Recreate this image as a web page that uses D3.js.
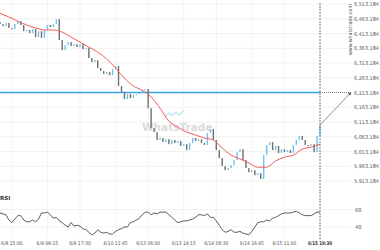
<!DOCTYPE html>
<html>
<head>
<meta charset="utf-8">
<script src="https://cdn.jsdelivr.net/npm/d3@7"></script>
<style>
  body { margin:0; background:#fff; }
  text { font-family: "DejaVu Sans", sans-serif; }
</style>
</head>
<body>
<svg id="chart"></svg>
<script>
// closing prices, one per bar
var closes = [6445,6438,6449,6432,6428,6445,6455,6442,6421,6425,
  6415,6428,6401,6421,6398,6425,6442,6435,6445,6462,
  6391,6357,6374,6384,6371,6377,6367,6377,6360,6364,
  6330,6316,6323,6296,6286,6276,6283,6272,6293,6303,
  6235,6215,6191,6208,6194,6205,6208,6211,6221,6225,6160,
  6093,6079,6052,6059,6045,6055,6038,6052,6042,6049,
  6032,6038,6018,6042,6059,6049,6055,6042,6035,6076,
  6089,6052,6018,5991,5964,5950,5957,5967,5984,6011,
  6021,5984,5957,5943,5950,5933,5940,5920,6001,6035,
  6045,6018,6032,6008,6021,6011,6018,6008,6035,6052,
  6066,6052,6035,6032,6038,6011,6066,6103]
var firstOpen = 6452

// moving average, sampled every 3 bars
var maStep = 3
var maValues = [6482,6469,6455,6442,6432,6425,6425,6418,6401,6384,
  6367,6350,6327,6296,6262,6235,6221,6198,6160,6116,
  6096,6079,6069,6059,6052,6025,6001,5988,5974,5960,
  5960,5981,5994,6001,6021,6028,6038]

// RSI, one per bar
var rsi = [56,55,54,48,45,49,53,53,48,46,
  46,48,46,49,56,56,57,54,50,51,
  47,45,42,40,45,41,42,41,38,37,
  34,31,33,37,34,33,34,32,32,35,
  37,38,40,40,45,46,48,50,54,57,
  57,54,56,55,57,57,57,54,51,48,
  45,46,47,47,48,49,51,54,54,53,
  55,51,51,47,42,37,34,35,37,34,
  34,35,33,32,31,35,40,45,46,46,
  48,47,50,51,53,55,56,56,56,57,
  58,56,54,53,53,53,55,57,57]

var tickLabels = ["6/8 15:00","6/9 09:15","6/9 17:30","6/10 11:45","6/13 06:00",
  "6/13 14:15","6/14 08:30","6/14 16:45","6/15 11:00","6/15 19:30"]
var tickBars = [4,16,27,39,50,62,73,85,96,108]

var priceTicks = [5913.184,5963.184,6013.184,6063.184,6113.184,6163.184,6213.184,
  6263.184,6313.184,6363.184,6413.184,6463.184,6513.184]
var rsiTicks = [40,60]
var targetLevel = 6213.184

var screen = {width:380,height:250}
var svg = d3.select("#chart")
  .attr("width",screen.width)
  .attr("height",screen.height)

var xScale = d3.scaleLinear()
  .domain([0,closes.length-1])
  .range([0,320])
var yScale = d3.scaleLinear()
  .domain([5913.184,6513.184])
  .range([181,4])
var rsiScale = d3.scaleLinear()
  .domain([40,60])
  .range([227,209.5])

var fmt = d3.format(",.3f")

// grid
var grid = svg.append("g")
grid.selectAll("line.h")
  .data(priceTicks)
  .enter()
  .append("line")
  .attr("x1",0).attr("x2",350)
  .attr("y1",function(d){return yScale(d)})
  .attr("y2",function(d){return yScale(d)})
  .attr("stroke","#eeeeee")
  .attr("stroke-width",0.8)
grid.selectAll("line.r")
  .data(rsiTicks)
  .enter()
  .append("line")
  .attr("x1",0).attr("x2",350)
  .attr("y1",function(d){return rsiScale(d)})
  .attr("y2",function(d){return rsiScale(d)})
  .attr("stroke","#eeeeee")
  .attr("stroke-width",0.8)
grid.selectAll("line.v")
  .data(tickBars.slice(0,-1))
  .enter()
  .append("line")
  .attr("x1",function(d){return xScale(d)})
  .attr("x2",function(d){return xScale(d)})
  .attr("y1",0).attr("y2",238)
  .attr("stroke","#f0f0f0")
  .attr("stroke-width",0.8)

// watermark logo
var wm = svg.append("g").attr("opacity",0.55)
wm.append("path")
  .attr("d","M165,117 L169,113 L172,116 L176,112 L179,115 L184,110")
  .attr("fill","none").attr("stroke","#9fd3f0").attr("stroke-width",1.5)
wm.append("text")
  .text("WhatsTrade")
  .attr("x",142).attr("y",131)
  .attr("font-size",10.5)
  .attr("font-weight","bold")
  .attr("fill","#bdbdbd")

// target level line
svg.append("line")
  .attr("x1",0).attr("x2",xScale(closes.length-1))
  .attr("y1",yScale(targetLevel)).attr("y2",yScale(targetLevel))
  .attr("stroke","#3aa6e0").attr("stroke-width",1.4)
svg.append("line")
  .attr("x1",xScale(closes.length-1)).attr("x2",351)
  .attr("y1",yScale(targetLevel)).attr("y2",yScale(targetLevel))
  .attr("stroke","#555").attr("stroke-width",0.7)
  .attr("stroke-dasharray","1,1")

// candles
var candles = svg.append("g")
candles.selectAll("rect")
  .data(closes)
  .enter()
  .append("rect")
  .attr("x",function(d,i){return xScale(i)-0.7})
  .attr("width",1.4)
  .attr("y",function(d,i){
    var o = i>0 ? closes[i-1] : firstOpen
    return yScale(Math.max(o,d))
  })
  .attr("height",function(d,i){
    var o = i>0 ? closes[i-1] : firstOpen
    return Math.max(1.2,Math.abs(yScale(o)-yScale(d)))
  })
  .attr("fill",function(d,i){
    var o = i>0 ? closes[i-1] : firstOpen
    return d>=o ? "#6ec2ee" : "#707070"
  })

// moving average
var maLine = d3.line()
  .x(function(d,k){return xScale(k*maStep)})
  .y(function(d){return yScale(d)})
  .curve(d3.curveMonotoneX)
svg.append("path")
  .datum(maValues)
  .attr("d",maLine)
  .attr("fill","none")
  .attr("stroke","#f25b5b")
  .attr("stroke-width",1)

// vertical marker at last bar
svg.append("line")
  .attr("x1",xScale(closes.length-1)).attr("x2",xScale(closes.length-1))
  .attr("y1",3).attr("y2",240)
  .attr("stroke","#3d5f6e").attr("stroke-width",0.8)
  .attr("stroke-dasharray","2,1")

// arrow to target
svg.append("defs").append("marker")
  .attr("id","arrow")
  .attr("viewBox","0 0 10 10")
  .attr("refX",9).attr("refY",5)
  .attr("markerWidth",5).attr("markerHeight",5)
  .attr("orient","auto")
  .append("path")
  .attr("d","M0,0 L10,5 L0,10 z")
  .attr("fill","#555")
svg.append("line")
  .attr("x1",xScale(closes.length-1)).attr("y1",yScale(closes[closes.length-1]))
  .attr("x2",351).attr("y2",yScale(targetLevel))
  .attr("stroke","#666").attr("stroke-width",0.7)
  .attr("marker-end","url(#arrow)")

// RSI
var rsiLine = d3.line()
  .x(function(d,i){return xScale(i)})
  .y(function(d){return rsiScale(d)})
svg.append("path")
  .datum(rsi)
  .attr("d",rsiLine)
  .attr("fill","none")
  .attr("stroke","#333")
  .attr("stroke-width",0.8)

svg.append("text")
  .text("RSI")
  .attr("x",0).attr("y",200)
  .attr("font-size",5.5)
  .attr("font-weight","bold")
  .attr("fill","#333")

// price labels
svg.append("g").selectAll("text")
  .data(priceTicks)
  .enter()
  .append("text")
  .text(function(d){return fmt(d)})
  .attr("x",354)
  .attr("y",function(d){return yScale(d)+2})
  .attr("font-size",5.3)
  .attr("textLength",25)
  .attr("lengthAdjust","spacingAndGlyphs")
  .attr("fill","#555")
svg.append("g").selectAll("text")
  .data(rsiTicks)
  .enter()
  .append("text")
  .text(function(d){return d})
  .attr("x",355)
  .attr("y",function(d){return rsiScale(d)+2})
  .attr("font-size",5.3)
  .attr("fill","#555")

// vertical site text
svg.append("text")
  .text("www.whatstrade.com")
  .attr("transform","translate(352,55) rotate(-90)")
  .attr("font-size",5.2)
  .attr("textLength",51)
  .attr("lengthAdjust","spacingAndGlyphs")
  .attr("fill","#555")

// time labels
svg.append("g").selectAll("text")
  .data(tickLabels)
  .enter()
  .append("text")
  .text(function(d){return d})
  .attr("x",function(d,i){return xScale(tickBars[i])})
  .attr("y",245)
  .attr("text-anchor","middle")
  .attr("font-size",5.1)
  .attr("textLength",function(d){return d.length*2.4})
  .attr("lengthAdjust","spacingAndGlyphs")
  .attr("font-weight",function(d,i){return i==tickLabels.length-1 ? "bold" : "normal"})
  .attr("fill",function(d,i){return i==tickLabels.length-1 ? "#333" : "#555"})
</script>
</body>
</html>
